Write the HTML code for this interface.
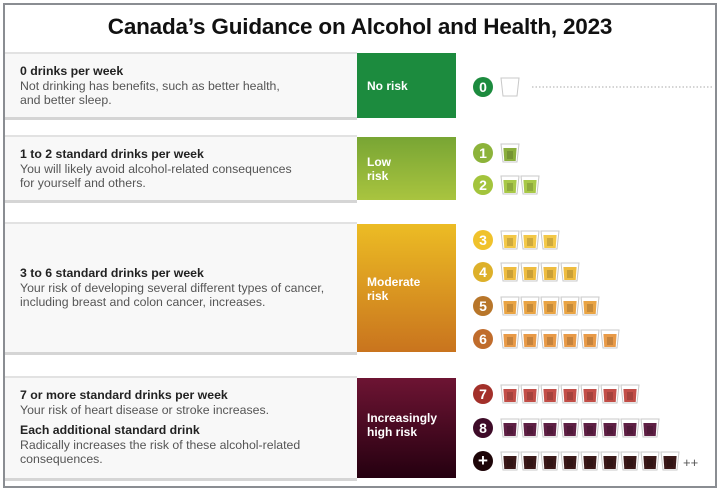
<!DOCTYPE html>
<html><head><style>
body{margin:0;background:#fff;}
#w{position:relative;width:720px;height:489px;font-family:"Liberation Sans",sans-serif;overflow:hidden;}
.frame{position:absolute;left:3px;top:3px;width:710px;height:481px;border:2px solid #8a8d92;}
.t{position:absolute;left:0;width:720px;top:14px;text-align:center;font-size:22.5px;font-weight:bold;color:#111;letter-spacing:-0.2px;}
.p{position:absolute;left:5px;width:352px;background:#f8f8f8;border-top:2px solid #e2e2e2;border-bottom:3px solid #d5d5d5;}
.tx{position:absolute;left:20px;font-size:12.3px;color:#555;line-height:14.5px;}
.tx b{color:#222;}
.bx{position:absolute;left:357px;width:99px;color:#fff;font-weight:bold;font-size:12px;line-height:14px;}
.bx span{position:absolute;left:10px;}
</style></head><body><div id="w">
<div class="frame"></div>
<div class="t">Canada’s Guidance on Alcohol and Health, 2023</div>

<div class="p" style="top:52px;height:63px"></div>
<div class="p" style="top:135px;height:63px"></div>
<div class="p" style="top:222px;height:128px"></div>
<div class="p" style="top:376px;height:100px"></div>

<div class="tx" style="top:64px"><b>0 drinks per week</b><br>Not drinking has benefits, such as better health,<br>and better sleep.</div>
<div class="tx" style="top:147px"><b>1 to 2 standard drinks per week</b><br>You will likely avoid alcohol-related consequences<br>for yourself and others.</div>
<div class="tx" style="top:266px"><b>3 to 6 standard drinks per week</b><br>Your risk of developing several different types of cancer,<br>including breast and colon cancer, increases.</div>
<div class="tx" style="top:388px"><b>7 or more standard drinks per week</b><br>Your risk of heart disease or stroke increases.<div style="height:6px"></div><b>Each additional standard drink</b><br>Radically increases the risk of these alcohol-related<br>consequences.</div>

<div class="bx" style="top:53px;height:65px;background:#1c8b3e"><span style="top:26px">No risk</span></div>
<div class="bx" style="top:137px;height:63px;background:linear-gradient(#78a534,#a9c43f)"><span style="top:18px">Low<br>risk</span></div>
<div class="bx" style="top:224px;height:128px;background:linear-gradient(#ecbc24,#c9741e)"><span style="top:51px">Moderate<br>risk</span></div>
<div class="bx" style="top:378px;height:100px;background:linear-gradient(#6d1433,#250010)"><span style="top:33px">Increasingly<br>high risk</span></div>

<svg style="position:absolute;left:0;top:0" width="720" height="489">
<defs>
<symbol id="g" viewBox="0 0 18 18" overflow="visible">
<polygon points="0,0 18,0 16,18 2,18" fill="#fff" stroke="#c8c8c8" stroke-width="1"/>
<polygon points="2.4,4 15.6,4 14.7,17 3.3,17" fill="currentColor"/>
<polygon points="6,7 12,7 12,15 6,15" fill="#000" opacity="0.15"/>
</symbol>
</defs>
<g font-family="Liberation Sans, sans-serif" font-weight="bold" font-size="14" fill="#fff" text-anchor="middle">
<circle cx="483" cy="87" r="10" fill="#1c8b3e"/><text x="483" y="92">0</text>
<polygon points="501,78 519,78 517,96 503,96" fill="#fff" stroke="#c8c8c8" stroke-width="1"/>
<line x1="532" y1="87" x2="712" y2="87" stroke="#aaa" stroke-dasharray="1.5,2"/>
<circle cx="483" cy="153" r="10" fill="#8cb33a"/><text x="483" y="158">1</text>
<circle cx="483" cy="185" r="10" fill="#a3c43c"/><text x="483" y="190">2</text>
<circle cx="483" cy="240" r="10" fill="#f0c22c"/><text x="483" y="245">3</text>
<circle cx="483" cy="272" r="10" fill="#ddb02a"/><text x="483" y="277">4</text>
<circle cx="483" cy="306" r="10" fill="#b8762a"/><text x="483" y="311">5</text>
<circle cx="483" cy="339" r="10" fill="#c06c2c"/><text x="483" y="344">6</text>
<circle cx="483" cy="394" r="10" fill="#a3302a"/><text x="483" y="399">7</text>
<circle cx="483" cy="428" r="10" fill="#3e0b28"/><text x="483" y="433">8</text>
<circle cx="483" cy="461" r="10" fill="#1e0508"/><text x="483" y="466" font-size="17">+</text>
</g>
<g>
<use href="#g" x="501" y="144" width="18" height="18" color="#8aae3c"/>
<use href="#g" x="501" y="176" width="18" height="18" color="#a8c848"/><use href="#g" x="521" y="176" width="18" height="18" color="#a8c848"/>
<use href="#g" x="501" y="231" width="18" height="18" color="#f3c848"/><use href="#g" x="521" y="231" width="18" height="18" color="#f3c848"/><use href="#g" x="541" y="231" width="18" height="18" color="#f3c848"/>
<use href="#g" x="501" y="263" width="18" height="18" color="#eebc40"/><use href="#g" x="521" y="263" width="18" height="18" color="#eebc40"/><use href="#g" x="541" y="263" width="18" height="18" color="#eebc40"/><use href="#g" x="561" y="263" width="18" height="18" color="#eebc40"/>
<use href="#g" x="501" y="297" width="18" height="18" color="#e9a444"/><use href="#g" x="521" y="297" width="18" height="18" color="#e9a444"/><use href="#g" x="541" y="297" width="18" height="18" color="#e9a444"/><use href="#g" x="561" y="297" width="18" height="18" color="#e9a444"/><use href="#g" x="581" y="297" width="18" height="18" color="#e9a444"/>
<use href="#g" x="501" y="330" width="18" height="18" color="#e89a48"/><use href="#g" x="521" y="330" width="18" height="18" color="#e89a48"/><use href="#g" x="541" y="330" width="18" height="18" color="#e89a48"/><use href="#g" x="561" y="330" width="18" height="18" color="#e89a48"/><use href="#g" x="581" y="330" width="18" height="18" color="#e89a48"/><use href="#g" x="601" y="330" width="18" height="18" color="#e89a48"/>
<use href="#g" x="501" y="385" width="18" height="18" color="#c24e48"/><use href="#g" x="521" y="385" width="18" height="18" color="#c24e48"/><use href="#g" x="541" y="385" width="18" height="18" color="#c24e48"/><use href="#g" x="561" y="385" width="18" height="18" color="#c24e48"/><use href="#g" x="581" y="385" width="18" height="18" color="#c24e48"/><use href="#g" x="601" y="385" width="18" height="18" color="#c24e48"/><use href="#g" x="621" y="385" width="18" height="18" color="#c24e48"/>
<use href="#g" x="501" y="419" width="18" height="18" color="#5e1f44"/><use href="#g" x="521" y="419" width="18" height="18" color="#5e1f44"/><use href="#g" x="541" y="419" width="18" height="18" color="#5e1f44"/><use href="#g" x="561" y="419" width="18" height="18" color="#5e1f44"/><use href="#g" x="581" y="419" width="18" height="18" color="#5e1f44"/><use href="#g" x="601" y="419" width="18" height="18" color="#5e1f44"/><use href="#g" x="621" y="419" width="18" height="18" color="#5e1f44"/><use href="#g" x="641" y="419" width="18" height="18" color="#5e1f44"/>
<use href="#g" x="501" y="452" width="18" height="18" color="#3a1818"/><use href="#g" x="521" y="452" width="18" height="18" color="#3a1818"/><use href="#g" x="541" y="452" width="18" height="18" color="#3a1818"/><use href="#g" x="561" y="452" width="18" height="18" color="#3a1818"/><use href="#g" x="581" y="452" width="18" height="18" color="#3a1818"/><use href="#g" x="601" y="452" width="18" height="18" color="#3a1818"/><use href="#g" x="621" y="452" width="18" height="18" color="#3a1818"/><use href="#g" x="641" y="452" width="18" height="18" color="#3a1818"/><use href="#g" x="661" y="452" width="18" height="18" color="#3a1818"/>
</g>
<text x="683" y="467" font-family="Liberation Sans, sans-serif" font-size="13" fill="#555">++</text>
</svg>
</div></body></html>
